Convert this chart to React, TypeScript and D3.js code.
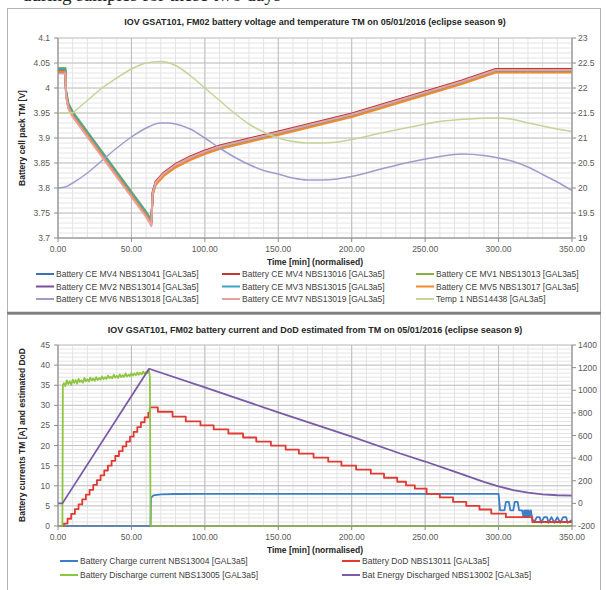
import * as d3 from 'd3';

const W = 606;
const H = 590;
const FONT = 'Liberation Sans, Arial, sans-serif';

// ---------- shared ----------
const timeTicks = [0, 50, 100, 150, 200, 250, 300, 350];

// ---------- top chart: cell voltages + temperatures ----------
const voltTicks = [3.7, 3.75, 3.8, 3.85, 3.9, 3.95, 4, 4.05, 4.1];
const tempTicks = [19, 19.5, 20, 20.5, 21, 21.5, 22, 22.5, 23];

const vTime = [0, 5, 5.5, 7, 10, 20, 30, 40, 50, 60, 62.5, 63.5, 64.5, 66.5, 72, 80, 90, 100, 110, 130, 150, 175, 200, 225, 250, 275, 298, 350];
const mv4_13041 = [4.036, 4.036, 3.991, 3.966, 3.949, 3.909, 3.869, 3.829, 3.789, 3.749, 3.737, 3.731, 3.790, 3.810, 3.828, 3.845, 3.860, 3.872, 3.882, 3.896, 3.910, 3.928, 3.946, 3.968, 3.990, 4.012, 4.035, 4.035];
const mv4_13016 = [4.031, 4.031, 3.986, 3.961, 3.944, 3.904, 3.864, 3.824, 3.784, 3.744, 3.732, 3.726, 3.793, 3.813, 3.831, 3.848, 3.863, 3.875, 3.885, 3.899, 3.913, 3.931, 3.949, 3.971, 3.993, 4.015, 4.038, 4.038];
const mv1_13013 = [4.040, 4.040, 3.995, 3.970, 3.953, 3.913, 3.873, 3.833, 3.793, 3.753, 3.741, 3.735, 3.788, 3.808, 3.826, 3.843, 3.858, 3.870, 3.880, 3.894, 3.908, 3.926, 3.944, 3.966, 3.988, 4.010, 4.033, 4.033];
const mv2_13014 = [4.035, 4.035, 3.990, 3.965, 3.948, 3.908, 3.868, 3.828, 3.788, 3.748, 3.736, 3.730, 3.791, 3.811, 3.829, 3.846, 3.861, 3.873, 3.883, 3.897, 3.911, 3.929, 3.947, 3.969, 3.991, 4.013, 4.036, 4.036];
const mv3_13015 = [4.038, 4.038, 3.993, 3.968, 3.951, 3.911, 3.871, 3.831, 3.791, 3.751, 3.739, 3.733, 3.789, 3.809, 3.827, 3.844, 3.859, 3.871, 3.881, 3.895, 3.909, 3.927, 3.945, 3.967, 3.989, 4.011, 4.034, 4.034];
const mv5_13017 = [4.033, 4.033, 3.988, 3.963, 3.946, 3.906, 3.866, 3.826, 3.786, 3.746, 3.734, 3.728, 3.786, 3.806, 3.824, 3.841, 3.856, 3.868, 3.878, 3.892, 3.906, 3.924, 3.942, 3.964, 3.986, 4.008, 4.031, 4.031];
const mv7_13019 = [4.029, 4.029, 3.984, 3.959, 3.942, 3.902, 3.862, 3.822, 3.782, 3.742, 3.730, 3.724, 3.791, 3.811, 3.829, 3.846, 3.861, 3.873, 3.883, 3.897, 3.911, 3.929, 3.947, 3.969, 3.991, 4.013, 4.036, 4.036];

// these two follow the right (temperature) axis
const mv6Time = [0, 5, 10, 20, 30, 40, 50, 60, 70, 75, 80, 90, 100, 110, 120, 130, 140, 150, 160, 170, 180, 190, 200, 220, 240, 260, 275, 290, 300, 310, 320, 330, 340, 350];
const mv6_13018 = [20.0, 20.02, 20.1, 20.3, 20.55, 20.8, 21.02, 21.2, 21.3, 21.3, 21.28, 21.18, 21.0, 20.8, 20.62, 20.47, 20.35, 20.28, 20.2, 20.16, 20.16, 20.18, 20.23, 20.38, 20.52, 20.63, 20.68, 20.65, 20.6, 20.53, 20.42, 20.27, 20.12, 19.95];
const tempTime = [0, 10, 12, 20, 30, 40, 50, 60, 70, 80, 90, 100, 110, 120, 130, 140, 150, 160, 170, 180, 190, 200, 220, 240, 260, 280, 300, 310, 320, 330, 340, 350];
const temp1_14438 = [21.5, 21.5, 21.55, 21.75, 22.0, 22.2, 22.38, 22.5, 22.53, 22.45, 22.25, 22.0, 21.75, 21.5, 21.28, 21.12, 21.0, 20.93, 20.9, 20.9, 20.92, 20.97, 21.1, 21.22, 21.33, 21.38, 21.4, 21.37, 21.3, 21.24, 21.18, 21.13];

// ---------- bottom chart: currents, DoD, energy ----------
const ampTicks = [0, 5, 10, 15, 20, 25, 30, 35, 40, 45];
const whTicks = [-200, 0, 200, 400, 600, 800, 1000, 1200, 1400];

const chargeTime = [0, 63, 63.3, 65, 70, 80, 100, 300, 301, 304, 305, 307, 308, 310, 311, 313, 314, 316, 317, 317.5, 318, 318.5, 319, 319.5, 320, 320.5, 321, 322, 323, 325, 326, 328, 329, 331, 333, 334, 336, 338, 340, 342, 344, 346, 347, 350];
const charge = [0, 0, 7.0, 7.6, 7.85, 7.95, 8.0, 8.0, 3.9, 3.9, 6.0, 6.0, 3.9, 3.9, 6.0, 6.0, 3.9, 3.9, 2.3, 3.9, 2.3, 3.9, 2.3, 3.9, 2.3, 3.9, 2.3, 3.9, 1.4, 1.4, 2.2, 2.2, 0.8, 2.2, 2.2, 0.8, 2.2, 0.8, 2.2, 0.8, 2.2, 2.2, 0.8, 1.5];

const dodTime = [0, 4, 6.5, 9, 11.5, 14, 16.5, 19, 21.5, 24, 26.5, 29, 31.5, 34, 36.5, 39, 41.5, 44, 46.5, 49, 51.5, 54, 56.5, 59, 61.5, 62.5, 68, 78, 87, 97, 106, 116, 126, 135, 145, 155, 164, 174, 184, 193, 203, 213, 222, 231, 237, 243, 251, 260, 269, 278, 287, 295, 305, 323, 350];
const dod = [0, 0.6, 1.8, 3.0, 4.2, 5.4, 6.6, 7.8, 9.0, 10.2, 11.4, 12.6, 13.8, 15.0, 16.2, 17.4, 18.6, 19.8, 21.0, 22.2, 23.4, 24.6, 25.8, 27.0, 28.2, 29.5, 28.4, 27.2, 26.0, 25.0, 24.0, 23.0, 22.0, 21.0, 20.0, 19.0, 18.0, 17.0, 16.0, 15.0, 14.0, 13.0, 12.0, 11.0, 10.1, 9.3, 8.0, 7.1, 6.0, 5.0, 4.1, 3.1, 2.2, 1.0, 1.0];

const dischargeTime = [0, 3, 3.3, 4, 5, 6, 7, 8, 9, 10, 11, 12, 13, 14, 15, 16, 17, 18, 19, 20, 21, 22, 23, 24, 25, 26, 27, 28, 29, 30, 31, 32, 33, 34, 35, 36, 37, 38, 39, 40, 41, 42, 43, 44, 45, 46, 47, 48, 49, 50, 51, 52, 53, 54, 55, 56, 57, 58, 59, 60, 61, 62, 62.6, 63, 350];
const discharge = [0, 0, 35, 35.5, 34.8, 36.2, 35.3, 36.0, 35.1, 36.4, 35.6, 36.3, 35.4, 36.6, 35.8, 36.2, 35.6, 36.8, 36.0, 36.5, 35.9, 36.9, 36.2, 36.7, 36.1, 37.0, 36.3, 36.8, 36.4, 37.2, 36.5, 37.0, 36.6, 37.4, 36.8, 37.1, 36.7, 37.6, 36.9, 37.3, 36.8, 37.7, 37.0, 37.5, 37.1, 37.9, 37.2, 37.6, 37.3, 38.0, 37.4, 37.9, 37.5, 38.2, 37.6, 38.1, 37.7, 38.4, 37.8, 38.3, 38.0, 38.6, 37.0, 0, 0];

const energyTime = [0, 3, 62, 100, 150, 200, 233, 250, 270, 290, 300, 310, 320, 330, 340, 350];
const energy = [0, 0, 1190, 1025, 805, 590, 441, 370, 280, 190, 150, 118, 95, 80, 72, 68];

// ---------- legends ----------
const topNames = [
  'Battery CE MV4 NBS13041 [GAL3a5]', 'Battery CE MV4 NBS13016 [GAL3a5]', 'Battery CE MV1 NBS13013 [GAL3a5]',
  'Battery CE MV2 NBS13014 [GAL3a5]', 'Battery CE MV3 NBS13015 [GAL3a5]', 'Battery CE MV5 NBS13017 [GAL3a5]',
  'Battery CE MV6 NBS13018 [GAL3a5]', 'Battery CE MV7 NBS13019 [GAL3a5]', 'Temp 1 NBS14438 [GAL3a5]',
];
const topColors = ['#3f6fb5', '#c0392f', '#82b33c', '#7a4fa0', '#3aa6c4', '#f08a2c', '#9d9dcc', '#e5a2a0', '#c2d597'];
const bottomNames = [
  'Battery Charge current NBS13004 [GAL3a5]', 'Battery DoD NBS13011 [GAL3a5]',
  'Battery Discharge current NBS13005 [GAL3a5]', 'Bat Energy Discharged NBS13002 [GAL3a5]',
];
const bottomColors = ['#3b7fc6', '#e03a33', '#8dc63f', '#7b5aa6'];

const fmt = (v: number) => String(+v.toFixed(2));

function Grid({ x, y, yMinor, yMajor }: any) {
  const xMinor = d3.range(0, 351, 10);
  return (
    <g>
      {yMinor.map((v: number, i: number) => (
        <line key={'hm' + i} x1={x.range()[0]} x2={x.range()[1]} y1={y(v)} y2={y(v)} stroke="#e4e4e4" />
      ))}
      {xMinor.map((v: number) => (
        <line key={'vm' + v} x1={x(v)} x2={x(v)} y1={y.range()[0]} y2={y.range()[1]} stroke="#e4e4e4" />
      ))}
      {yMajor.map((v: number) => (
        <line key={'hM' + v} x1={x.range()[0]} x2={x.range()[1]} y1={y(v)} y2={y(v)} stroke="#c4c4c4" />
      ))}
      {timeTicks.map((v) => (
        <line key={'vM' + v} x1={x(v)} x2={x(v)} y1={y.range()[0]} y2={y.range()[1]} stroke="#bdbdbd" />
      ))}
    </g>
  );
}

function Axes({ x, yL, yR, lTicks, rTicks, lTitle, lTitleY }: any) {
  const [x0, x1] = x.range();
  const [yb, yt] = yL.range();
  return (
    <g fontFamily={FONT} fontSize={8.5} fill="#595959">
      <line x1={x0} x2={x0} y1={yt} y2={yb} stroke="#8c8c8c" />
      <line x1={x1} x2={x1} y1={yt} y2={yb} stroke="#8c8c8c" />
      <line x1={x0} x2={x1} y1={yb} y2={yb} stroke="#8c8c8c" />
      {lTicks.map((v: number) => (
        <g key={'l' + v}>
          <line x1={x0 - 4} x2={x0} y1={yL(v)} y2={yL(v)} stroke="#8c8c8c" />
          <text x={x0 - 8} y={yL(v) + 3} textAnchor="end">{fmt(v)}</text>
        </g>
      ))}
      {rTicks.map((v: number) => (
        <g key={'r' + v}>
          <line x1={x1} x2={x1 + 4} y1={yR(v)} y2={yR(v)} stroke="#8c8c8c" />
          <text x={x1 + 6} y={yR(v) + 3}>{fmt(v)}</text>
        </g>
      ))}
      {timeTicks.map((v) => (
        <g key={'x' + v}>
          <line x1={x(v)} x2={x(v)} y1={yb} y2={yb + 4} stroke="#8c8c8c" />
          <text x={x(v)} y={yb + 14} textAnchor="middle">{v.toFixed(2)}</text>
        </g>
      ))}
      <text x={(x0 + x1) / 2} y={yb + 27} textAnchor="middle" fontWeight="bold" fill="#262626">
        Time [min] (normalised)
      </text>
      <text transform={`translate(25,${lTitleY}) rotate(-90)`} textAnchor="middle" fontWeight="bold" fill="#262626">
        {lTitle}
      </text>
    </g>
  );
}

export default function App() {
  const x = d3.scaleLinear().domain([0, 350]).range([58, 572]);

  // top
  const yV = d3.scaleLinear().domain([3.7, 4.1]).range([238, 38]);
  const yT = d3.scaleLinear().domain([19, 23]).range([238, 38]);
  // bottom
  const yA = d3.scaleLinear().domain([0, 45]).range([526, 345]);
  const yW = d3.scaleLinear().domain([-200, 1400]).range([526, 345]);

  const path = (ts: number[], vs: number[], y: any, curve: any = d3.curveLinear) =>
    d3.line<number>().x((_, i) => x(ts[i])).y((v) => y(v)).curve(curve)(vs) || '';

  const topLines = [
    { d: path(vTime, mv4_13041, yV) },
    { d: path(vTime, mv4_13016, yV) },
    { d: path(vTime, mv1_13013, yV) },
    { d: path(vTime, mv2_13014, yV) },
    { d: path(vTime, mv3_13015, yV) },
    { d: path(vTime, mv5_13017, yV) },
    { d: path(mv6Time, mv6_13018, yT, d3.curveMonotoneX) },
    { d: path(vTime, mv7_13019, yV) },
    { d: path(tempTime, temp1_14438, yT, d3.curveMonotoneX) },
  ];

  const bottomLines = [
    { d: path(chargeTime, charge, yA), c: bottomColors[0] },
    { d: path(dodTime, dod, yA, d3.curveStepAfter), c: bottomColors[1] },
    { d: path(dischargeTime, discharge, yA), c: bottomColors[2] },
    { d: path(energyTime, energy, yW), c: bottomColors[3] },
  ];

  const topColX = [36, 222, 416];
  const topRowY = [277, 289.5, 302];
  const botColX = [60, 342];
  const botRowY = [564, 578];

  return (
    <svg width={W} height={H} style={{ position: 'absolute', left: 0, top: 0, background: '#fff' }}>
      <rect width={W} height={H} fill="#fff" />
      <text x={22} y={1} fontFamily="Liberation Serif, serif" fontSize={19} fill="#222">
        during samples for these two days
      </text>

      {/* chart frames */}
      <rect x={7.5} y={8.5} width={593} height={304} fill="#fff" stroke="#b3b3b3" />
      <rect x={7.5} y={314.5} width={593} height={290} fill="#fff" stroke="#b3b3b3" />
      <line x1={7} x2={601} y1={313} y2={313} stroke="#808080" strokeWidth={2.5} />

      {/* top chart */}
      <text x={315} y={25} textAnchor="middle" fontFamily={FONT} fontWeight="bold" fontSize={9} fill="#262626">
        IOV GSAT101, FM02 battery voltage and temperature TM on 05/01/2016 (eclipse season 9)
      </text>
      <Grid x={x} y={yV} yMinor={d3.range(3.7, 4.1001, 0.01)} yMajor={voltTicks} />
      {topLines.map((l, i) => (
        <path key={i} d={l.d} fill="none" stroke={topColors[i]} strokeWidth={i < 6 || i === 7 ? 2 : 1.5} strokeLinejoin="round" />
      ))}
      <Axes x={x} yL={yV} yR={yT} lTicks={voltTicks} rTicks={tempTicks} lTitle="Battery cell pack TM [V]" lTitleY={138} />
      <g fontFamily={FONT} fontSize={8.5} fill="#404040">
        {topNames.map((n, i) => {
          const cx = topColX[i % 3];
          const cy = topRowY[Math.floor(i / 3)];
          return (
            <g key={n}>
              <line x1={cx} x2={cx + 18} y1={cy - 3} y2={cy - 3} stroke={topColors[i]} strokeWidth={2} />
              <text x={cx + 20} y={cy}>{n}</text>
            </g>
          );
        })}
      </g>

      {/* bottom chart */}
      <text x={315} y={333} textAnchor="middle" fontFamily={FONT} fontWeight="bold" fontSize={9} fill="#262626">
        IOV GSAT101, FM02 battery current and DoD estimated from TM on 05/01/2016 (eclipse season 9)
      </text>
      <Grid x={x} y={yA} yMinor={d3.range(0, 46, 1)} yMajor={ampTicks} />
      {bottomLines.map((l, i) => (
        <path key={i} d={l.d} fill="none" stroke={l.c} strokeWidth={1.8} strokeLinejoin="round" />
      ))}
      <Axes x={x} yL={yA} yR={yW} lTicks={ampTicks} rTicks={whTicks} lTitle="Battery  currents  TM [A] and estimated DoD" lTitleY={435} />
      <g fontFamily={FONT} fontSize={8.5} fill="#404040">
        {bottomNames.map((n, i) => {
          const cx = botColX[i % 2];
          const cy = botRowY[Math.floor(i / 2)];
          return (
            <g key={n}>
              <line x1={cx} x2={cx + 18} y1={cy - 3} y2={cy - 3} stroke={bottomColors[i]} strokeWidth={2} />
              <text x={cx + 20} y={cy}>{n}</text>
            </g>
          );
        })}
      </g>
    </svg>
  );
}
